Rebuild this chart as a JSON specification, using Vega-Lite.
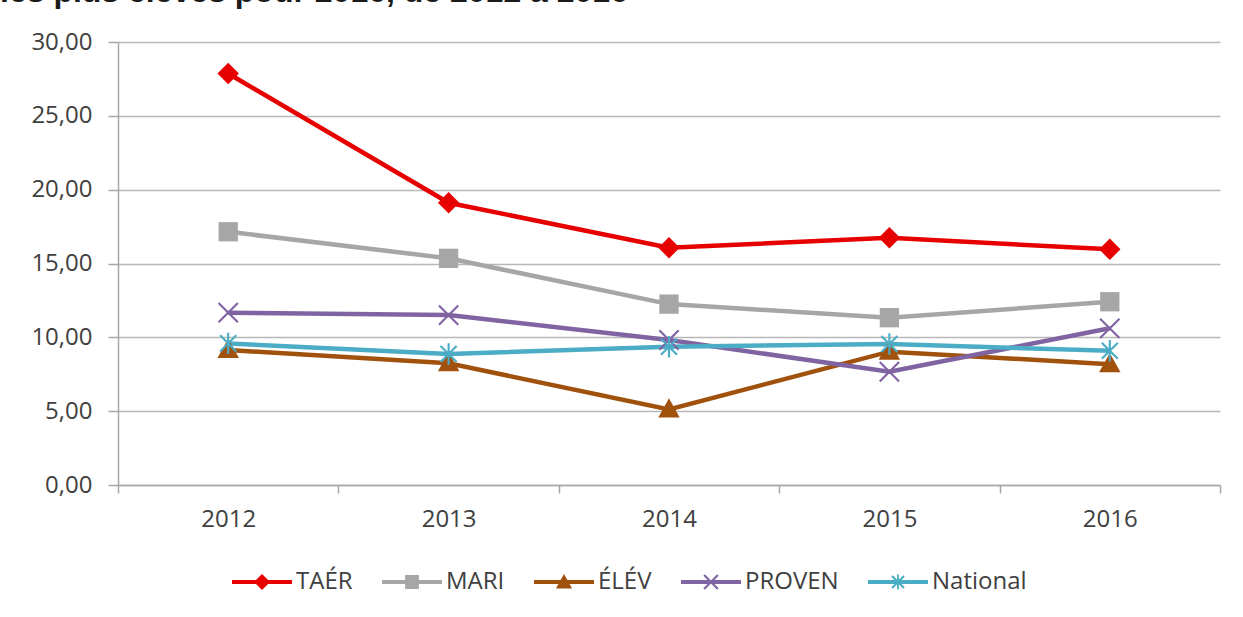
{
  "$schema": "https://vega.github.io/schema/vega-lite/v6.json",
  "width": 1102,
  "height": 443,
  "autosize": {"type": "none"},
  "padding": {"left": 118, "top": 42, "right": 23, "bottom": 132},
  "background": "white",
  "title": {"text": "les plus élevés pour 2016, de 2012 à 2016", "anchor": "start", "frame": "group", "dx": -118, "offset": 21, "font": "Liberation Sans", "fontSize": 32, "fontWeight": "bold", "color": "#1a1a1a"},
  "config": {"view": {"stroke": null}},
  "resolve": {"legend": {"color": "independent", "shape": "independent"}},
  "data": {"values": [
    {"year": "2012", "series": "TAÉR", "value": 27.87},
    {"year": "2013", "series": "TAÉR", "value": 19.11},
    {"year": "2014", "series": "TAÉR", "value": 16.07},
    {"year": "2015", "series": "TAÉR", "value": 16.74},
    {"year": "2016", "series": "TAÉR", "value": 15.96},
    {"year": "2012", "series": "MARI", "value": 17.15},
    {"year": "2013", "series": "MARI", "value": 15.35},
    {"year": "2014", "series": "MARI", "value": 12.25},
    {"year": "2015", "series": "MARI", "value": 11.33},
    {"year": "2016", "series": "MARI", "value": 12.41},
    {"year": "2012", "series": "ÉLÉV", "value": 9.14},
    {"year": "2013", "series": "ÉLÉV", "value": 8.24},
    {"year": "2014", "series": "ÉLÉV", "value": 5.12},
    {"year": "2015", "series": "ÉLÉV", "value": 9.03},
    {"year": "2016", "series": "ÉLÉV", "value": 8.18},
    {"year": "2012", "series": "PROVEN", "value": 11.67},
    {"year": "2013", "series": "PROVEN", "value": 11.51},
    {"year": "2014", "series": "PROVEN", "value": 9.82},
    {"year": "2015", "series": "PROVEN", "value": 7.67},
    {"year": "2016", "series": "PROVEN", "value": 10.61},
    {"year": "2012", "series": "National", "value": 9.59},
    {"year": "2013", "series": "National", "value": 8.87},
    {"year": "2014", "series": "National", "value": 9.36},
    {"year": "2015", "series": "National", "value": 9.55},
    {"year": "2016", "series": "National", "value": 9.09}
  ]},
  "encoding": {
    "x": {"field": "year", "type": "ordinal", "bandPosition": 0.5,
      "scale": {"type": "band", "paddingInner": 0, "paddingOuter": 0},
      "axis": {"title": null, "tickBand": "extent", "tickSize": 8, "tickWidth": 1.5, "tickColor": "#a6a6a6", "domainColor": "#a6a6a6", "domainWidth": 1.5, "labelFont": "Open Sans", "labelFontSize": 24, "labelColor": "#404040", "labelPadding": 14, "labelAngle": 0, "grid": false}},
    "y": {"field": "value", "type": "quantitative",
      "scale": {"domain": [0, 30]},
      "axis": {"title": null, "values": [0, 5, 10, 15, 20, 25, 30], "labelExpr": "replace(format(datum.value, '.2f'), '.', ',')", "grid": true, "gridColor": "#b8b8b8", "gridWidth": 1.5, "tickSize": 10, "tickWidth": 1.5, "tickColor": "#a6a6a6", "domainColor": "#a6a6a6", "domainWidth": 1.5, "labelPadding": 16, "labelFont": "Open Sans", "labelFontSize": 24, "labelColor": "#404040"}}
  },
  "layer": [
    {"mark": {"type": "line", "strokeWidth": 4.5},
     "encoding": {"color": {"field": "series", "type": "nominal", "legend": null,
       "scale": {"domain": ["TAÉR", "MARI", "ÉLÉV", "PROVEN", "National"], "range": ["#e60000", "#a6a6a6", "#a0520d", "#8064a2", "#4bacc6"]}}}},
    {"transform": [{"filter": {"field": "series", "equal": "TAÉR"}}],
     "mark": {"type": "point", "filled": true, "opacity": 1, "size": 460, "strokeWidth": 0, "shape": "M0,-1L1,0L0,1L-1,0Z"},
     "encoding": {"color": {"field": "series", "type": "nominal", "legend": null}}},
    {"transform": [{"filter": {"field": "series", "equal": "MARI"}}],
     "mark": {"type": "point", "filled": true, "opacity": 1, "size": 460, "strokeWidth": 0, "shape": "M-0.9,-0.9L0.9,-0.9L0.9,0.9L-0.9,0.9Z"},
     "encoding": {"color": {"field": "series", "type": "nominal", "legend": null}}},
    {"transform": [{"filter": {"field": "series", "equal": "ÉLÉV"}}],
     "mark": {"type": "point", "filled": true, "opacity": 1, "size": 460, "strokeWidth": 0, "shape": "M0,-1.05L1,0.75L-1,0.75Z"},
     "encoding": {"color": {"field": "series", "type": "nominal", "legend": null}}},
    {"transform": [{"filter": {"field": "series", "equal": "PROVEN"}}],
     "mark": {"type": "point", "filled": true, "opacity": 1, "size": 460, "strokeWidth": 0, "shape": "M-0.83,-0.97L0.97,0.83L0.83,0.97L-0.97,-0.83ZM0.83,-0.97L0.97,-0.83L-0.83,0.97L-0.97,0.83Z"},
     "encoding": {"color": {"field": "series", "type": "nominal", "legend": null}}},
    {"transform": [{"filter": {"field": "series", "equal": "National"}}],
     "mark": {"type": "point", "filled": true, "opacity": 1, "size": 460, "strokeWidth": 0, "shape": "M-0.68,-0.82L0.82,0.68L0.68,0.82L-0.82,-0.68ZM0.68,-0.82L0.82,-0.68L-0.68,0.82L-0.82,0.68ZM-0.1,-1L0.1,-1L0.1,1L-0.1,1Z"},
     "encoding": {"color": {"field": "series", "type": "nominal", "legend": null}}},
    {"transform": [{"filter": "datum.value < 0"}],
     "mark": {"type": "point", "filled": true, "opacity": 1, "strokeWidth": 0},
     "encoding": {
       "color": {"field": "series", "type": "nominal",
         "legend": {"title": null, "orient": "none", "direction": "horizontal", "legendX": 114, "legendY": 510, "symbolSize": 3600, "symbolStrokeWidth": 0, "labelFont": "Open Sans", "labelFontSize": 24, "labelColor": "#404040", "labelOffset": 4, "columnPadding": 29}},
       "shape": {"field": "series", "type": "nominal",
         "scale": {"domain": ["TAÉR", "MARI", "ÉLÉV", "PROVEN", "National"], "range": [
           "M-1,-0.07L1,-0.07L1,0.07L-1,0.07ZM0,-0.27L0.27,0L0,0.27L-0.27,0Z",
           "M-1,-0.07L1,-0.07L1,0.07L-1,0.07ZM-0.23,-0.23L0.23,-0.23L0.23,0.23L-0.23,0.23Z",
           "M-1,-0.07L1,-0.07L1,0.07L-1,0.07ZM0,-0.27L0.27,0.22L-0.27,0.22Z",
           "M-1,-0.07L1,-0.07L1,0.07L-1,0.07ZM-0.205,-0.255L0.255,0.205L0.205,0.255L-0.255,-0.205ZM0.205,-0.255L0.255,-0.205L-0.205,0.255L-0.255,0.205Z",
           "M-1,-0.07L1,-0.07L1,0.07L-1,0.07ZM-0.175,-0.225L0.225,0.175L0.175,0.225L-0.225,-0.175ZM0.175,-0.225L0.225,-0.175L-0.175,0.225L-0.225,0.175ZM-0.03,-0.25L0.03,-0.25L0.03,0.25L-0.03,0.25Z"
         ]},
         "legend": {"title": null, "orient": "none", "direction": "horizontal", "legendX": 114, "legendY": 510, "symbolSize": 3600, "symbolStrokeWidth": 0, "labelFont": "Open Sans", "labelFontSize": 24, "labelColor": "#404040", "labelOffset": 4, "columnPadding": 29}}
     }}
  ]
}
